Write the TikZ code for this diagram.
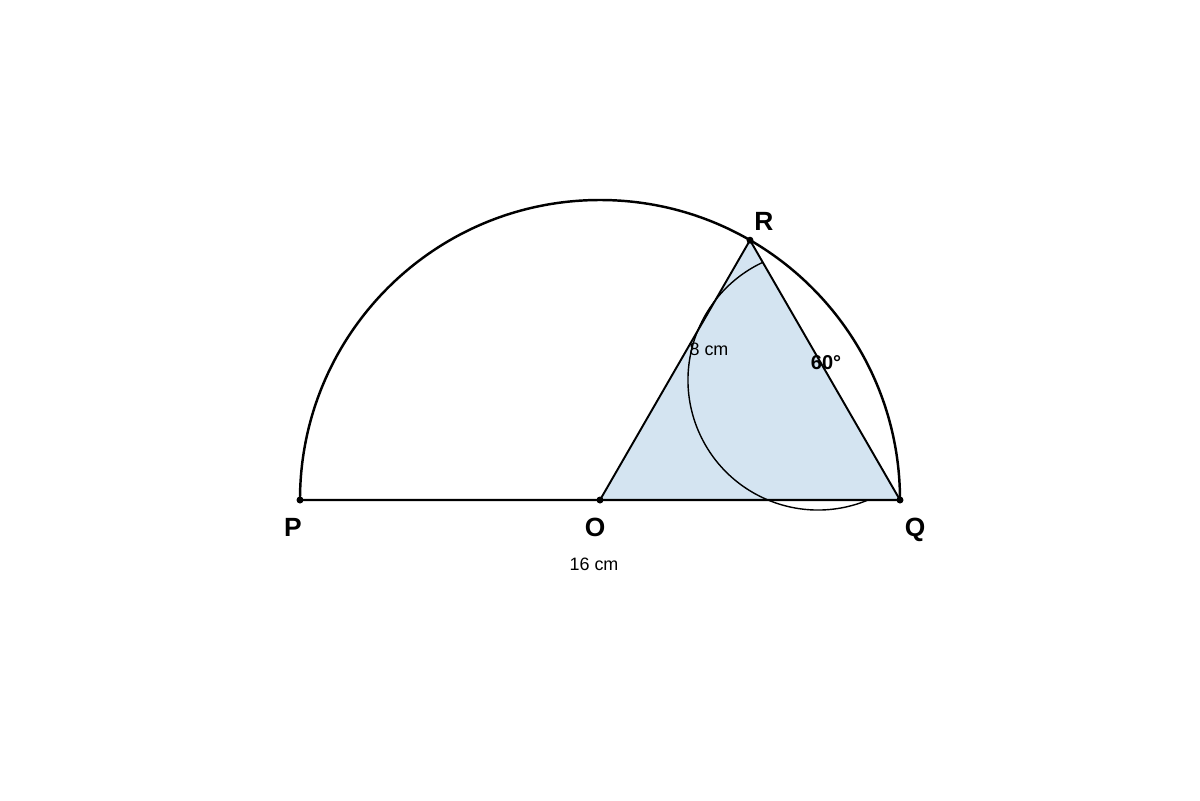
\documentclass[tikz,border=0pt]{standalone}
\usepackage{fontspec}
\setmainfont{Liberation Sans}
\usetikzlibrary{calc}
\definecolor{triblue}{RGB}{212,228,241}
\begin{document}
\begin{tikzpicture}[scale=0.2]
  \tikzstyle{every node}+=[inner sep=0pt]
  \tikzstyle{ptlabel}=[font=\fontsize{7.5}{8}\selectfont\bfseries]
  \tikzstyle{dimlabel}=[font=\fontsize{5.1}{6}\selectfont]
  \tikzstyle{vertex}=[circle,fill=black,minimum size=0.7mm]
  \useasboundingbox (0,0) rectangle (60,-40);
  \coordinate (O) at (30,-25);
  \coordinate (P) at (15,-25);
  \coordinate (Q) at (45,-25);
  \coordinate (R) at (37.5,-12.01);
  \coordinate (C) at (40.9,-19);
  \fill [triblue] (O) -- (Q) -- (R) -- cycle;
  \draw [black, line width=0.7pt] (Q) arc (0:180:15) -- cycle;
  \draw [black, line width=0.55pt] (O) -- (R) -- (Q);
  \draw [black, line width=0.4pt] ($(C)+(115:6.5)$) arc (115:293:6.5);
  \node [vertex] (p) at (P) {};
  \node [vertex] (o) at (O) {};
  \node [vertex] (q) at (Q) {};
  \node [vertex] (r) at (R) {};
  \node [ptlabel] (rl) at (38.2,-11.05) {R};
  \node [ptlabel] (pl) at (14.65,-26.35) {P};
  \node [ptlabel] (ol) at (29.75,-26.35) {O};
  \node [ptlabel] (ql) at (45.75,-26.5) {Q};
  \node [dimlabel] (or) at (35.45,-17.45) {8 cm};
  \node [dimlabel, font=\fontsize{5.7}{6}\selectfont\bfseries] (ang) at (41.3,-18.15) {60°};
  \node [dimlabel] (pq) at (29.7,-28.2) {16 cm};
\end{tikzpicture}
\end{document}
